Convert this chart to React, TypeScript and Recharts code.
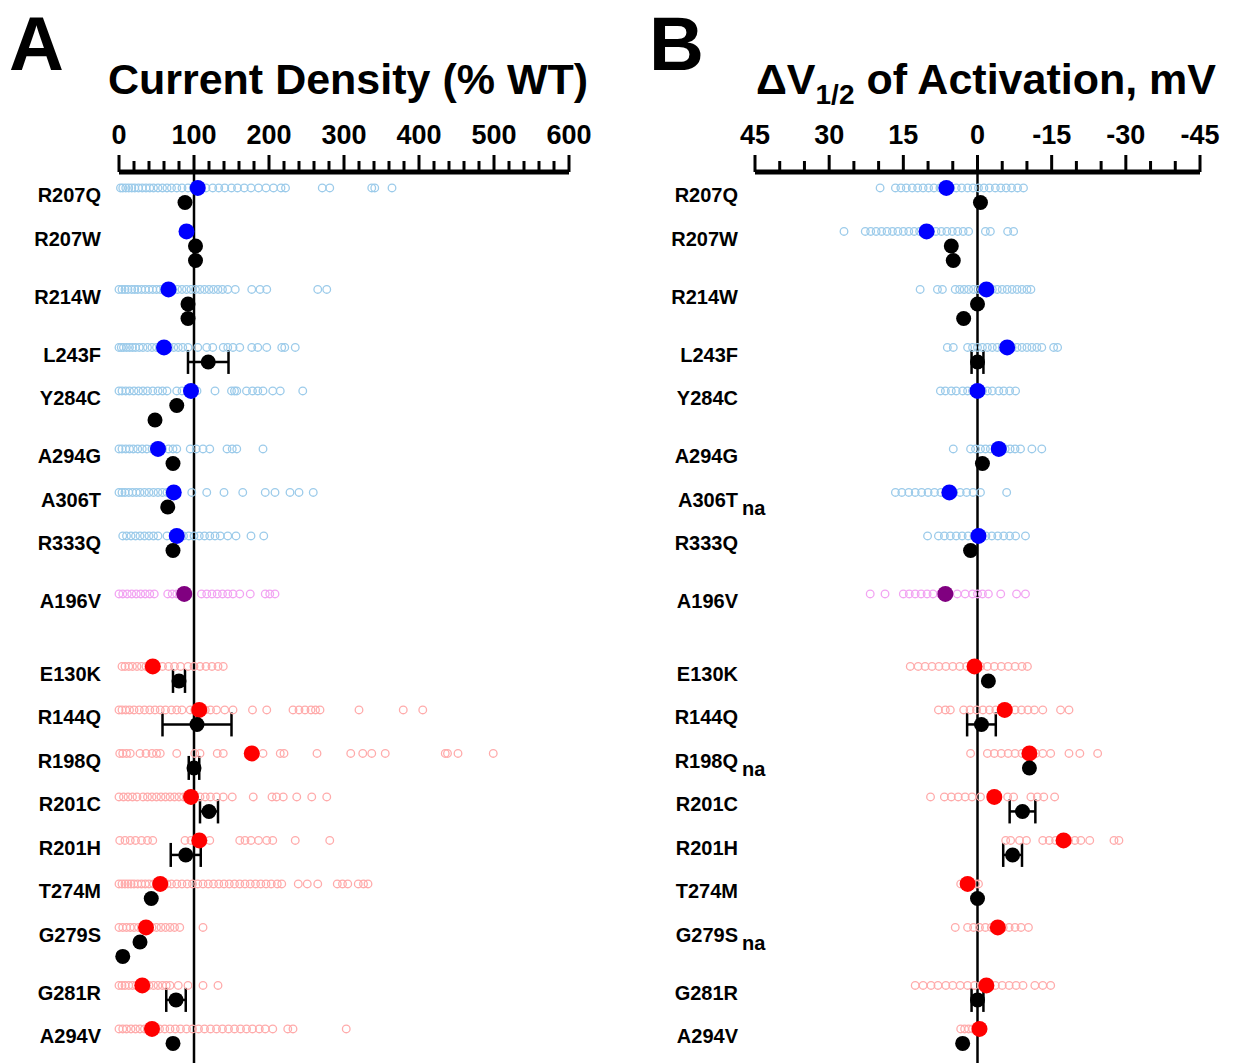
import { ScatterChart, Scatter, XAxis, YAxis, ReferenceLine, ErrorBar } from 'recharts';

const variants = ['R207Q', 'R207W', 'R214W', 'L243F', 'Y284C', 'A294G', 'A306T', 'R333Q', 'A196V',
  'E130K', 'R144Q', 'R198Q', 'R201C', 'R201H', 'T274M', 'G279S', 'G281R', 'A294V'];
const kinds = ['blue', 'blue', 'blue', 'blue', 'blue', 'blue', 'blue', 'blue', 'purple',
  'red', 'red', 'red', 'red', 'red', 'red', 'red', 'red', 'red'];

// Panel A: current density, % of WT
const cellsA = [
  [2, 5, 9, 13, 17, 21, 26, 31, 36, 41, 46, 52, 58, 64, 70, 77, 84, 92, 99, 108, 116, 125, 133, 141, 150, 158, 167, 176, 186, 196, 206, 216, 222, 271, 281, 337, 341, 364],
  [],
  [0, 4, 8, 12, 17, 21, 25, 30, 35, 40, 45, 50, 55, 60, 66, 72, 78, 84, 90, 96, 102, 108, 114, 120, 126, 132, 138, 145, 155, 177, 188, 197, 265, 277],
  [0, 3, 6, 10, 14, 18, 22, 27, 32, 38, 44, 50, 55, 61, 67, 73, 79, 85, 92, 105, 117, 125, 139, 145, 152, 161, 177, 185, 197, 217, 221, 235],
  [0, 4, 9, 14, 20, 26, 32, 38, 45, 52, 58, 64, 77, 84, 92, 99, 104, 128, 150, 154, 157, 170, 178, 185, 192, 205, 215, 245],
  [0, 4, 9, 14, 19, 25, 31, 37, 44, 51, 58, 66, 72, 77, 95, 103, 112, 121, 144, 151, 157, 192],
  [0, 4, 8, 13, 18, 23, 28, 34, 40, 46, 52, 58, 64, 97, 117, 140, 165, 195, 208, 228, 240, 259],
  [5, 10, 16, 22, 28, 34, 40, 46, 52, 64, 75, 86, 93, 100, 107, 114, 121, 128, 135, 145, 156, 176, 193],
  [0, 5, 11, 17, 23, 29, 35, 41, 47, 65, 71, 77, 110, 117, 124, 131, 138, 145, 152, 161, 175, 195, 201, 208],
  [4, 8, 13, 18, 24, 30, 36, 42, 50, 58, 66, 74, 82, 92, 100, 108, 116, 124, 132, 139],
  [0, 4, 9, 14, 20, 27, 34, 41, 48, 55, 62, 70, 77, 84, 95, 101, 108, 115, 122, 130, 141, 152, 178, 197, 232, 240, 248, 256, 262, 268, 320, 379, 405],
  [1, 5, 10, 15, 28, 36, 44, 50, 55, 77, 101, 108, 131, 139, 192, 215, 220, 264, 309, 325, 337, 355, 435, 438, 452, 499],
  [0, 6, 12, 18, 24, 32, 38, 44, 50, 56, 62, 68, 74, 80, 86, 108, 115, 122, 130, 139, 151, 179, 204, 210, 219, 237, 257, 277],
  [1, 8, 15, 22, 30, 38, 45, 88, 96, 104, 112, 121, 161, 168, 176, 186, 197, 205, 235, 281],
  [0, 4, 8, 12, 16, 20, 25, 30, 35, 40, 46, 52, 58, 64, 70, 77, 84, 91, 98, 105, 112, 119, 126, 133, 140, 147, 154, 161, 168, 175, 182, 189, 196, 203, 211, 217, 239, 251, 265, 291, 298, 305, 319, 326, 332],
  [0, 5, 10, 15, 20, 26, 32, 38, 44, 50, 56, 62, 68, 74, 81, 112],
  [0, 4, 8, 13, 18, 23, 28, 34, 40, 46, 52, 58, 63, 68, 79, 92, 112, 132],
  [0, 5, 10, 16, 22, 28, 34, 40, 47, 54, 61, 68, 75, 82, 90, 98, 106, 114, 122, 130, 138, 146, 154, 162, 170, 178, 187, 195, 205, 225, 232, 303],
];
const meansA = [105, 90, 66, 60, 96, 52, 73, 77, 87, 45, 107, 177, 96, 107, 55, 36, 31, 44];
const refA = [[88], [102, 102], [92, 92], [119], [77, 48], [72], [65], [72], [], [80], [104], [100], [120], [89], [43], [28, 5], [76], [72]];
const refErrA = [[0], [0, 0], [0, 0], [27], [0, 0], [0], [0], [0], [], [8], [46], [7], [12], [20], [0], [0, 0], [13], [0]];

// Panel B: shift of V1/2 of activation, mV
const cellsB = [
  [19.7, 16.6, 15.5, 14.4, 13.2, 12.1, 11, 9.9, 8.8, 7.6, 6.5, 5.4, 4.3, 3.2, 2, 0.9, -0.2, -1.3, -2.4, -3.6, -4.7, -5.8, -6.9, -8.1, -9.3],
  [27, 22.7, 21.6, 20.5, 19.4, 18.3, 17.2, 16.1, 15, 13.9, 12.8, 11.7, 10.6, 9.5, 8.4, 7.3, 6.2, 5.1, 4, 2.9, 1.8, -1.6, -2.6, -6.1, -7.3],
  [11.6, 8.1, 7.1, 4.5, 3.6, 2.7, 1.8, 0.8, -0.1, -1, -2, -3, -4, -5, -6, -7, -8, -9, -10, -10.8],
  [6.1, 4.9, 2, 1, 0, -1, -2, -3, -4, -5, -6, -7, -8, -9, -10, -11, -12, -13, -15.4, -16.2],
  [7.5, 6.5, 5.3, 4.3, 3, 2, 1, 0, -1, -2, -3, -4.3, -5.3, -6.5, -7.7],
  [4.9, 1.4, 0.4, -0.6, -1.6, -2.6, -3.6, -4.6, -5.6, -6.6, -7.6, -8.7, -11, -13],
  [16.6, 15.3, 13.9, 12.6, 11.3, 10, 8.7, 7.4, 6.1, 4.8, 3.5, 2.2, 0.9, -0.6, -5.9],
  [10.1, 7.9, 6.7, 5.5, 4.3, 3.1, 1.9, 0.7, -0.5, -1.7, -2.9, -4.1, -5.3, -6.5, -7.7, -9.7],
  [21.7, 18.7, 15, 13.8, 12.6, 11.4, 10.2, 9, 7.5, 4.1, 2.5, 1, 0, -1, -2.2, -4.7, -7.9, -9.7],
  [13.6, 12, 10.6, 9.2, 7.8, 6.4, 5, 3.6, 2.2, 0.8, -0.6, -2, -3.4, -4.8, -6.2, -7.6, -9, -10.1],
  [7.9, 6.5, 5.5, 2.8, 1.5, 0.2, -1.1, -2.4, -3.7, -5, -6.3, -7.6, -8.9, -10.2, -11.5, -13.2, -16.8, -18.5],
  [1.4, -2, -3.4, -4.8, -6.2, -7.6, -9, -10.4, -11.8, -13.2, -14.8, -18.5, -20.7, -24.3],
  [9.5, 6.7, 5.3, 3.9, 2.5, 1.1, -0.6, -6.1, -7.3, -10.8, -12.1, -13.4, -15.6],
  [-5.7, -6.7, -8.5, -9.9, -13.2, -14.5, -15.8, -17.1, -18.4, -19.7, -20.9, -22.7, -27.6, -28.6],
  [3.4, 2.6, 1.4, 0.4, -0.2],
  [4.5, 2, 0.8, -0.4, -1.6, -2.8, -4, -5.2, -6.4, -7.6, -8.8, -10.3],
  [12.6, 11, 9.4, 8, 6.4, 5, 3.5, 2, 0.6, -0.8, -2.2, -3.6, -5, -6.4, -7.8, -9.2, -11.6, -13.2, -14.8],
  [3.4, 2.6, 1.8, 1],
];
const meansB = [6.3, 10.3, -1.8, -6, 0, -4.3, 5.7, -0.2, 6.5, 0.6, -5.5, -10.5, -3.4, -17.4, 2, -4.1, -1.8, -0.4];
const refB = [[-0.6], [5.3, 4.9], [0, 2.8], [0], [], [-1], [], [1.4], [], [-2.2], [-0.8], [-10.5], [-9.1], [-7.1], [0], [], [0], [3]];
const refErrB = [[0], [0, 0], [0, 0], [1.2], [], [0], [], [0], [], [0], [2.9], [0], [2.6], [1.9], [0], [], [1.2], [0]];
const naB = ['A306T', 'R198Q', 'G279S'];

const ticksA = [0, 20, 40, 60, 80, 100, 120, 140, 160, 180, 200, 220, 240, 260, 280, 300, 320, 340, 360, 380, 400, 420, 440, 460, 480, 500, 520, 540, 560, 580, 600];
const ticksB = [45, 40, 35, 30, 25, 20, 15, 10, 5, 0, -5, -10, -15, -20, -25, -30, -35, -40, -45];

const FONT = '"Liberation Sans", Arial, sans-serif';
const ringColor: Record<string, string> = { blue: '#9ccbea', purple: '#f2a4f2', red: '#ffabab' };
const meanColor: Record<string, string> = { blue: '#0000ff', purple: '#800080', red: '#ff0000' };

// vertical slots: one for the mean row, one per reference dot, plus a spacer
const lanes: number[] = [];
{
  let pos = 1.1;
  variants.forEach((_, i) => {
    if (i > 0 && kinds[i] !== kinds[i - 1]) pos += kinds[i] === 'purple' ? 1 : 2;
    lanes.push(pos);
    pos += 2 + Math.max(1, refA[i].length);
  });
}
const labelTicks = lanes.map((l) => l + 0.5);
const Y_MAX = 61.45;

const ring = (color: string) => (p: any) => (
  <circle cx={p.cx} cy={p.cy} r={3.8} fill="none" stroke={color} strokeWidth={1.3} />
);
const dot = (color: string, r: number) => (p: any) => <circle cx={p.cx} cy={p.cy} r={r} fill={color} />;

function XTick({ x, y, payload, major }: any) {
  const isMajor = Math.abs(payload.value % major) < 1e-9;
  return (
    <g>
      <line x1={x} x2={x} y1={y} y2={y - (isMajor ? 17 : 11)} stroke="#000" strokeWidth={3} />
      {isMajor && (
        <text x={x} y={y - 28} textAnchor="middle" fontSize={27} fontWeight="bold" fontFamily={FONT} fill="#000">
          {payload.value}
        </text>
      )}
    </g>
  );
}

function YTick({ x, y, payload, showNa }: any) {
  const i = labelTicks.findIndex((t) => Math.abs(t - payload.value) < 1e-6);
  const name = variants[i];
  return (
    <g>
      <text x={x} y={y} textAnchor="end" dominantBaseline="central" fontSize={20} fontWeight="bold" fontFamily={FONT} fill="#000">
        {name}
      </text>
      {showNa && naB.includes(name) && (
        <text x={x + 4} y={y + 8} dominantBaseline="central" fontSize={20} fontWeight="bold" fontFamily={FONT} fill="#000">
          na
        </text>
      )}
    </g>
  );
}

function Panel({ cells, means, refs, errs, domain, ticks, major, refX, reversed, width, yWidth, labelGap, right, showNa }: any) {
  const ringData: Record<string, any[]> = { blue: [], purple: [], red: [] };
  const meanData: Record<string, any[]> = { blue: [], purple: [], red: [] };
  const plain: any[] = [];
  const withErr: any[] = [];
  variants.forEach((_, i) => {
    cells[i].forEach((v: number) => ringData[kinds[i]].push({ x: v, y: lanes[i] }));
    meanData[kinds[i]].push({ x: means[i], y: lanes[i] });
    refs[i].forEach((v: number, j: number) => {
      const p = { x: v, y: lanes[i] + 1 + j, err: errs[i][j] };
      if (errs[i][j] > 0) withErr.push(p);
      else plain.push(p);
    });
  });
  const kindList = ['blue', 'purple', 'red'];
  return (
    <ScatterChart width={width} height={1063} margin={{ top: 100, right, bottom: 0, left: 0 }}>
      <XAxis
        type="number"
        dataKey="x"
        orientation="top"
        domain={domain}
        reversed={reversed}
        ticks={ticks}
        interval={0}
        height={72}
        tickSize={0}
        tickMargin={0}
        tickLine={false}
        axisLine={{ stroke: '#000', strokeWidth: 5 }}
        tick={(p: any) => <XTick {...p} major={major} />}
      />
      <YAxis
        type="number"
        dataKey="y"
        domain={[0, Y_MAX]}
        reversed
        ticks={labelTicks}
        interval={0}
        width={yWidth}
        tickSize={0}
        tickMargin={labelGap}
        tickLine={false}
        axisLine={false}
        tick={(p: any) => <YTick {...p} showNa={showNa} />}
      />
      <ReferenceLine x={refX} stroke="#000" strokeWidth={2.5} />
      {kindList.map((k) => (
        <Scatter key={'c' + k} data={ringData[k]} shape={ring(ringColor[k])} isAnimationActive={false} />
      ))}
      {kindList.map((k) => (
        <Scatter key={'m' + k} data={meanData[k]} shape={dot(meanColor[k], 8)} isAnimationActive={false} />
      ))}
      <Scatter data={plain} shape={dot('#000', 7.5)} isAnimationActive={false} />
      <Scatter data={withErr} shape={dot('#000', 7.5)} isAnimationActive={false}>
        <ErrorBar dataKey="err" direction="x" width={12} stroke="#000" strokeWidth={2.5} />
      </Scatter>
    </ScatterChart>
  );
}

export default function App() {
  return (
    <div style={{ position: 'absolute', left: 0, top: 0, width: 1236, height: 1063, background: '#fff' }}>
      <div style={{ position: 'absolute', left: 0, top: 0 }}>
        <Panel
          cells={cellsA}
          means={meansA}
          refs={refA}
          errs={refErrA}
          domain={[0, 600]}
          ticks={ticksA}
          major={100}
          refX={100}
          reversed={false}
          width={600}
          yWidth={119}
          labelGap={18}
          right={31}
          showNa={false}
        />
      </div>
      <div style={{ position: 'absolute', left: 620, top: 0 }}>
        <Panel
          cells={cellsB}
          means={meansB}
          refs={refB}
          errs={refErrB}
          domain={[-45, 45]}
          ticks={ticksB}
          major={15}
          refX={0}
          reversed
          width={616}
          yWidth={135}
          labelGap={17}
          right={36}
          showNa
        />
      </div>
      <svg width={1236} height={1063} style={{ position: 'absolute', left: 0, top: 0, pointerEvents: 'none' }}>
        <g fontFamily={FONT} fontWeight="bold" fill="#000">
          <text x={9} y={70} fontSize={76}>A</text>
          <text x={649} y={70} fontSize={76}>B</text>
          <text x={348} y={94} fontSize={43} textAnchor="middle">Current Density (% WT)</text>
          <text x={986} y={94} fontSize={43} textAnchor="middle">
            ΔV<tspan fontSize={28} dy={10}>1/2</tspan>
            <tspan dy={-10}> of Activation, mV</tspan>
          </text>
        </g>
      </svg>
    </div>
  );
}
